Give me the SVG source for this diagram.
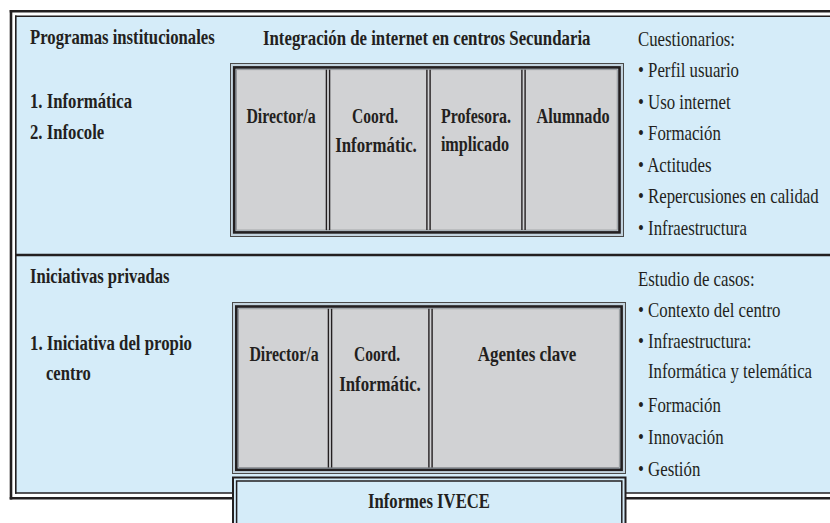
<svg xmlns="http://www.w3.org/2000/svg" width="830" height="523" viewBox="0 0 830 523">
<style>
.b{font-family:"Liberation Serif","Times New Roman",serif;font-weight:bold;font-size:21px;fill:#231f20}
.r{font-family:"Liberation Serif","Times New Roman",serif;font-size:21px;fill:#231f20}
.m{text-anchor:middle}
.ln{stroke:#231f20;fill:none}
.cell{fill:#d1d2d4;stroke:#8a8c8e;stroke-width:0.8}
.gap{fill:#c3d3de;stroke:#4a4a4a;stroke-width:1}
.dv{stroke:#231f20;stroke-width:1.4}
</style>
<rect x="0" y="0" width="830" height="523" fill="#ffffff"/>
<g id="frame">
  <rect x="15.5" y="16" width="815" height="477" fill="#d5ecf9"/>
  <line class="ln" x1="11" y1="10" x2="11" y2="499.5" stroke-width="2.6"/>
  <line class="ln" x1="9.7" y1="11.3" x2="830" y2="11.3" stroke-width="2.6"/>
  <line class="ln" x1="9.7" y1="498.3" x2="233" y2="498.3" stroke-width="2.4"/>
  <line class="ln" x1="625" y1="498.3" x2="830" y2="498.3" stroke-width="2.4"/>
  <line class="ln" x1="15.8" y1="15.5" x2="15.8" y2="493.8" stroke-width="1.6"/>
  <line class="ln" x1="15" y1="16.2" x2="830" y2="16.2" stroke-width="1.6"/>
  <line class="ln" x1="15" y1="493" x2="233" y2="493" stroke-width="1.6"/>
  <line class="ln" x1="625" y1="493" x2="830" y2="493" stroke-width="1.6"/>
  <line class="ln" x1="15" y1="255" x2="830" y2="255" stroke-width="2.4"/>
</g>
<g id="programas">
  <text class="b" transform="translate(30 44) scale(0.795 1)">Programas institucionales</text>
  <text class="b" transform="translate(30 108) scale(0.795 1)">1. Informática</text>
  <text class="b" transform="translate(30 139) scale(0.795 1)">2. Infocole</text>
</g>
<g id="integracion-title">
  <text class="b" transform="translate(263 45) scale(0.8 1)">Integración de internet en centros Secundaria</text>
</g>
<g id="box-upper">
  <rect class="gap" x="230.5" y="63.5" width="393" height="173"/>
  <rect class="ln" x="234.2" y="67.4" width="385.3" height="165" stroke-width="2.6"/>
  <rect class="cell" x="236.5" y="69.7" width="380.7" height="160.4"/>
  <g class="dv">
    <line x1="326.4" y1="69.7" x2="326.4" y2="230.1"/><line x1="329.6" y1="69.7" x2="329.6" y2="230.1"/>
    <line x1="426.9" y1="69.7" x2="426.9" y2="230.1"/><line x1="430.1" y1="69.7" x2="430.1" y2="230.1"/>
    <line x1="521.9" y1="69.7" x2="521.9" y2="230.1"/><line x1="525.1" y1="69.7" x2="525.1" y2="230.1"/>
  </g>
</g>
<g id="cell-director-1"><text class="b m" transform="translate(281 123) scale(0.755 1)">Director/a</text></g>
<g id="cell-coord-1">
  <text class="b m" transform="translate(375 123) scale(0.74 1)">Coord.</text>
  <text class="b m" transform="translate(376 152) scale(0.8 1)">Informátic.</text>
</g>
<g id="cell-profesora">
  <text class="b m" transform="translate(476 123) scale(0.76 1)">Profesora.</text>
  <text class="b m" transform="translate(475 151) scale(0.77 1)">implicado</text>
</g>
<g id="cell-alumnado"><text class="b m" transform="translate(573 123) scale(0.775 1)">Alumnado</text></g>
<g id="cuestionarios" class="r">
  <text transform="translate(638 46) scale(0.8 1)">Cuestionarios:</text>
  <text transform="translate(638 77) scale(0.8 1)">• Perfil usuario</text>
  <text transform="translate(638 108.5) scale(0.8 1)">• Uso internet</text>
  <text transform="translate(638 140) scale(0.8 1)">• Formación</text>
  <text transform="translate(638 171.5) scale(0.8 1)">• Actitudes</text>
  <text transform="translate(638 203) scale(0.8 1)">• Repercusiones en calidad</text>
  <text transform="translate(638 235) scale(0.8 1)">• Infraestructura</text>
</g>
<g id="iniciativas">
  <text class="b" transform="translate(30 283) scale(0.79 1)">Iniciativas privadas</text>
  <text class="b" transform="translate(30 350) scale(0.8 1)">1. Iniciativa del propio</text>
  <text class="b" transform="translate(46 380) scale(0.79 1)">centro</text>
</g>
<g id="box-lower">
  <rect class="gap" x="232.5" y="302.5" width="393" height="171"/>
  <rect class="ln" x="236.3" y="306.5" width="385.3" height="163.3" stroke-width="2.6"/>
  <rect class="cell" x="238.6" y="308.8" width="380.7" height="158.7"/>
  <g class="dv">
    <line x1="328.4" y1="308.8" x2="328.4" y2="467.5"/><line x1="331.6" y1="308.8" x2="331.6" y2="467.5"/>
    <line x1="428.9" y1="308.8" x2="428.9" y2="467.5"/><line x1="432.1" y1="308.8" x2="432.1" y2="467.5"/>
  </g>
</g>
<g id="cell-director-2"><text class="b m" transform="translate(284 361) scale(0.755 1)">Director/a</text></g>
<g id="cell-coord-2">
  <text class="b m" transform="translate(377 361) scale(0.74 1)">Coord.</text>
  <text class="b m" transform="translate(380 391) scale(0.8 1)">Informátic.</text>
</g>
<g id="cell-agentes"><text class="b m" transform="translate(527 361) scale(0.81 1)">Agentes clave</text></g>
<g id="estudio" class="r">
  <text transform="translate(638 286) scale(0.8 1)">Estudio de casos:</text>
  <text transform="translate(638 317) scale(0.8 1)">• Contexto del centro</text>
  <text transform="translate(638 348) scale(0.8 1)">• Infraestructura:</text>
  <text transform="translate(648 378) scale(0.8 1)">Informática y telemática</text>
  <text transform="translate(638 412) scale(0.8 1)">• Formación</text>
  <text transform="translate(638 444) scale(0.8 1)">• Innovación</text>
  <text transform="translate(638 476) scale(0.8 1)">• Gestión</text>
</g>
<g id="informes">
  <rect x="233" y="477.5" width="392.5" height="50" fill="#d5ecf9" stroke="#231f20" stroke-width="2"/>
  <rect x="236.6" y="481" width="385.2" height="50" fill="none" stroke="#231f20" stroke-width="1.5"/>
  <text class="b m" transform="translate(429 508) scale(0.795 1)">Informes IVECE</text>
</g>
</svg>
